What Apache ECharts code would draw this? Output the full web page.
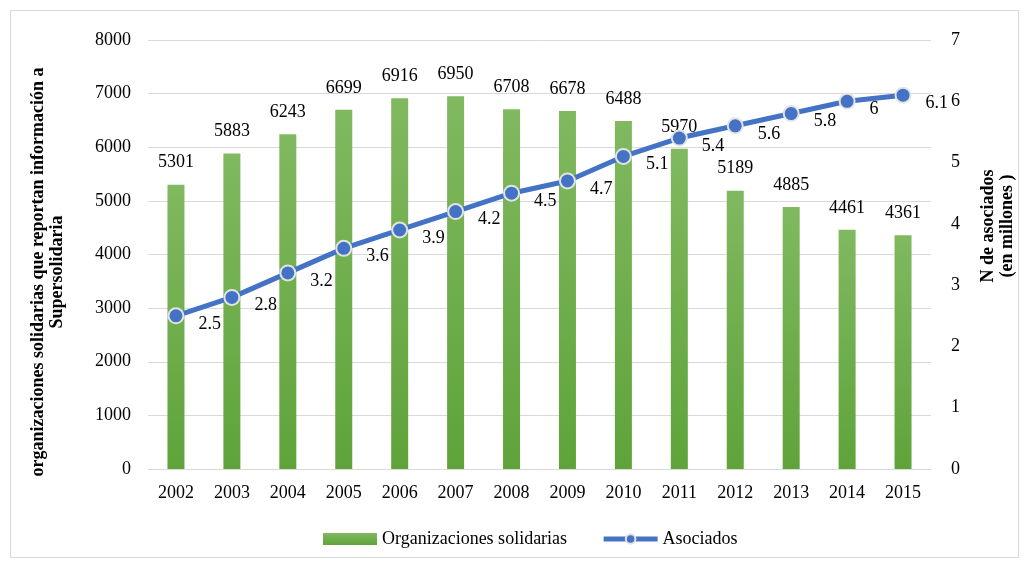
<!DOCTYPE html>
<html>
<head>
<meta charset="utf-8">
<script src="https://cdn.jsdelivr.net/npm/echarts@6/dist/echarts.min.js"></script>
<style>
  html, body { margin: 0; padding: 0; background: #fff; }
  #frame { position: absolute; left: 10px; top: 10px; width: 1007px; height: 546px; border: 1px solid #d9d9d9; }
  #chart { width: 1028px; height: 567px; }
</style>
</head>
<body>
<div id="frame"></div>
<div id="chart"></div>
<script>
const years = ['2002', '2003', '2004', '2005', '2006', '2007', '2008', '2009', '2010', '2011', '2012', '2013', '2014', '2015']
const organizaciones = [5301, 5883, 6243, 6699, 6916, 6950, 6708, 6678, 6488, 5970, 5189, 4885, 4461, 4361]
const asociados = [2.5, 2.8, 3.2, 3.6, 3.9, 4.2, 4.5, 4.7, 5.1, 5.4, 5.6, 5.8, 6, 6.1]

const serif = '"Liberation Serif", "Times New Roman", serif'
const chart = echarts.init(document.getElementById('chart'))

const barColor = new echarts.graphic.LinearGradient(0, 0, 0, 1, [
  { offset: 0, color: '#80b960' },
  { offset: 1, color: '#5fa33a' }
])

// axis titles as free text so they can sit off-centre like the original
const titleStyle = {
  fill: '#000',
  fontFamily: serif,
  fontWeight: 'bold',
  align: 'center',
  verticalAlign: 'middle',
  lineHeight: 19
}

chart.setOption({
  animation: false,
  textStyle: { fontFamily: serif },
  grid: { left: 148, right: 97, top: 40, bottom: 98 },
  graphic: [
    {
      type: 'text',
      x: 48,
      y: 272,
      rotation: Math.PI / 2,
      style: Object.assign({}, titleStyle, {
        text: 'organizaciones solidarias que reportan información a\nSupersolidaria',
        fontSize: 18
      })
    },
    {
      type: 'text',
      x: 998,
      y: 226,
      rotation: Math.PI / 2,
      style: Object.assign({}, titleStyle, {
        text: 'N de asociados\n(en millones )',
        fontSize: 18
      })
    }
  ],
  legend: {
    left: 318,
    bottom: 14,
    itemGap: 34,
    itemWidth: 54,
    itemHeight: 12,
    textStyle: { fontFamily: serif, fontSize: 18, color: '#000' },
    data: [
      { name: 'Organizaciones solidarias', icon: 'rect' },
      { name: 'Asociados', lineStyle: { width: 5 } }
    ]
  },
  xAxis: {
    type: 'category',
    data: years,
    axisLine: { lineStyle: { color: '#d9d9d9' } },
    axisTick: { show: false },
    axisLabel: { color: '#000', fontSize: 18, fontFamily: serif, margin: 15 }
  },
  yAxis: [
    {
      type: 'value',
      min: 0,
      max: 8000,
      interval: 1000,
      axisLine: { show: false },
      axisTick: { show: false },
      axisLabel: { color: '#000', fontSize: 18, fontFamily: serif, margin: 17, formatter: v => String(v) },
      splitLine: { lineStyle: { color: '#d9d9d9', width: 1 } }
    },
    {
      type: 'value',
      min: 0,
      max: 7,
      interval: 1,
      axisLine: { show: false },
      axisTick: { show: false },
      axisLabel: { color: '#000', fontSize: 18, fontFamily: serif, margin: 20 },
      splitLine: { show: false }
    }
  ],
  series: [
    {
      name: 'Organizaciones solidarias',
      type: 'bar',
      data: organizaciones,
      barWidth: 17,
      itemStyle: { color: barColor },
      label: { show: true, position: 'top', distance: 13, color: '#000', fontSize: 18, fontFamily: serif }
    },
    {
      name: 'Asociados',
      type: 'line',
      yAxisIndex: 1,
      data: asociados,
      symbol: 'circle',
      symbolSize: 15,
      z: 5,
      lineStyle: { color: '#4472c4', width: 5 },
      itemStyle: { color: '#4472c4', borderColor: '#e3e3e3', borderWidth: 2 },
      label: { show: true, position: 'right', distance: 8, offset: [6, 8], color: '#000', fontSize: 18, fontFamily: serif }
    }
  ]
})
</script>
</body>
</html>
